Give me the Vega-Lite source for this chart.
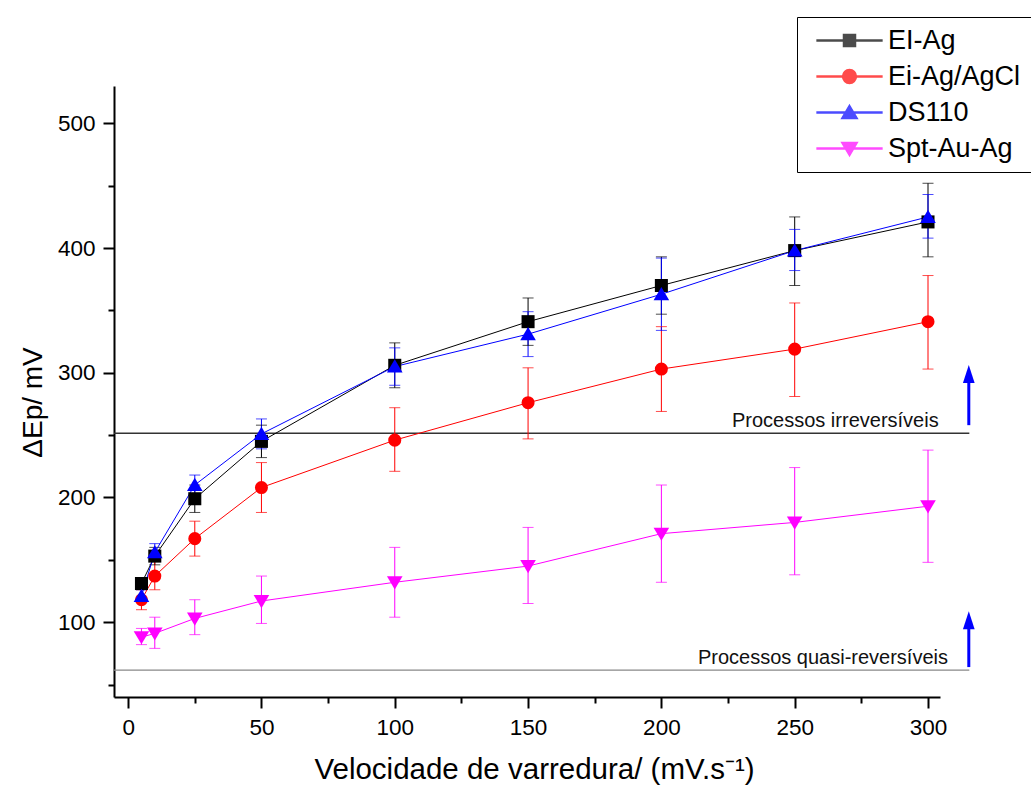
{
  "$schema": "https://vega.github.io/schema/vega-lite/v6.json",
  "width": 826,
  "height": 611,
  "autosize": {"type": "none"},
  "padding": {"left": 114, "top": 86, "right": 91, "bottom": 97},
  "background": "white",
  "config": {
    "font": "Liberation Sans",
    "view": {"stroke": null},
    "axis": {"grid": false, "domainColor": "#000", "domainWidth": 2, "tickColor": "#000", "tickWidth": 2, "labelColor": "#000", "titleColor": "#000", "labelFont": "Liberation Sans", "titleFont": "Liberation Sans", "titleFontWeight": "normal", "labelOverlap": false, "labelFlush": false}
  },
  "datasets": {
    "series": [
      {"s": "EI-Ag", "x": 5, "y": 131, "lo": 127, "hi": 135},
      {"s": "EI-Ag", "x": 10, "y": 153, "lo": 146, "hi": 160},
      {"s": "EI-Ag", "x": 25, "y": 199, "lo": 188, "hi": 210},
      {"s": "EI-Ag", "x": 50, "y": 245, "lo": 232, "hi": 258},
      {"s": "EI-Ag", "x": 100, "y": 306, "lo": 288, "hi": 324},
      {"s": "EI-Ag", "x": 150, "y": 341, "lo": 322, "hi": 360},
      {"s": "EI-Ag", "x": 200, "y": 370, "lo": 347, "hi": 393},
      {"s": "EI-Ag", "x": 250, "y": 398, "lo": 370, "hi": 425},
      {"s": "EI-Ag", "x": 300, "y": 421, "lo": 393, "hi": 452},
      {"s": "Ei-Ag/AgCl", "x": 5, "y": 118, "lo": 110, "hi": 126},
      {"s": "Ei-Ag/AgCl", "x": 10, "y": 137, "lo": 126, "hi": 149},
      {"s": "Ei-Ag/AgCl", "x": 25, "y": 167, "lo": 153, "hi": 181},
      {"s": "Ei-Ag/AgCl", "x": 50, "y": 208, "lo": 188, "hi": 228},
      {"s": "Ei-Ag/AgCl", "x": 100, "y": 246, "lo": 221, "hi": 272},
      {"s": "Ei-Ag/AgCl", "x": 150, "y": 276, "lo": 247, "hi": 304},
      {"s": "Ei-Ag/AgCl", "x": 200, "y": 303, "lo": 269, "hi": 337},
      {"s": "Ei-Ag/AgCl", "x": 250, "y": 319, "lo": 281, "hi": 356},
      {"s": "Ei-Ag/AgCl", "x": 300, "y": 341, "lo": 303, "hi": 378},
      {"s": "DS110", "x": 5, "y": 121, "lo": 116, "hi": 126},
      {"s": "DS110", "x": 10, "y": 156, "lo": 149, "hi": 163},
      {"s": "DS110", "x": 25, "y": 210, "lo": 202, "hi": 218},
      {"s": "DS110", "x": 50, "y": 251, "lo": 239, "hi": 263},
      {"s": "DS110", "x": 100, "y": 305, "lo": 290, "hi": 320},
      {"s": "DS110", "x": 150, "y": 331, "lo": 313, "hi": 349},
      {"s": "DS110", "x": 200, "y": 363, "lo": 334, "hi": 392},
      {"s": "DS110", "x": 250, "y": 398, "lo": 382, "hi": 415},
      {"s": "DS110", "x": 300, "y": 425, "lo": 408, "hi": 443},
      {"s": "Spt-Au-Ag", "x": 5, "y": 88, "lo": 82, "hi": 95},
      {"s": "Spt-Au-Ag", "x": 10, "y": 91, "lo": 79, "hi": 104},
      {"s": "Spt-Au-Ag", "x": 25, "y": 103, "lo": 90, "hi": 118},
      {"s": "Spt-Au-Ag", "x": 50, "y": 117, "lo": 99, "hi": 137},
      {"s": "Spt-Au-Ag", "x": 100, "y": 132, "lo": 104, "hi": 160},
      {"s": "Spt-Au-Ag", "x": 150, "y": 145, "lo": 115, "hi": 176},
      {"s": "Spt-Au-Ag", "x": 200, "y": 171, "lo": 132, "hi": 210},
      {"s": "Spt-Au-Ag", "x": 250, "y": 180, "lo": 138, "hi": 224},
      {"s": "Spt-Au-Ag", "x": 300, "y": 193, "lo": 148, "hi": 238}
    ],
    "limits": [
      {"k": "irr", "y": 251.5, "x1": -5.3, "x2": 315.5},
      {"k": "quasi", "y": 61.5, "x1": -5.3, "x2": 315.5}
    ],
    "labels": [
      {"k": "irr", "x": 304, "y": 256.3, "t": "Processos irreversíveis"},
      {"k": "quasi", "x": 307.5, "y": 66.3, "t": "Processos quasi-reversíveis"}
    ],
    "arrows": [
      {"x": 315.3, "y1": 258, "y2": 299},
      {"x": 315.3, "y1": 64, "y2": 101.5}
    ]
  },
  "layer": [
    {
      "data": {"name": "limits"},
      "transform": [{"filter": "datum.k === 'irr'"}],
      "mark": {"type": "rule", "color": "#333", "strokeWidth": 1.5},
      "encoding": {
        "y": {"field": "y", "type": "quantitative",
          "scale": {"domain": [40, 530], "nice": false, "zero": false},
          "axis": {
            "values": [50, 100, 150, 200, 250, 300, 350, 400, 450, 500],
            "tickSize": {"condition": {"test": "datum.value % 100 === 0", "value": 11}, "value": 6},
            "labelExpr": "datum.value % 100 === 0 ? datum.label : ''",
            "labelFontSize": 22.5, "labelPadding": 8,
            "title": "ΔEp/ mV", "titleFontSize": 28, "titlePadding": 10, "titleY": 316
          }
        },
        "x": {"field": "x1", "type": "quantitative",
          "scale": {"domain": [-5.3, 304.5], "nice": false, "zero": false},
          "axis": {
            "values": [0, 25, 50, 75, 100, 125, 150, 175, 200, 225, 250, 275, 300],
            "tickSize": {"condition": {"test": "datum.value % 50 === 0", "value": 11}, "value": 6},
            "labelExpr": "datum.value % 50 === 0 ? datum.label : ''",
            "labelFontSize": 22.5, "labelPadding": 8,
            "title": "Velocidade de varredura/ (mV.s⁻¹)", "titleFontSize": 29.5, "titlePadding": 17, "titleX": 420
          }
        },
        "x2": {"field": "x2"}
      }
    },
    {
      "data": {"name": "limits"},
      "transform": [{"filter": "datum.k === 'quasi'"}],
      "mark": {"type": "rule", "color": "#888", "strokeWidth": 1.3},
      "encoding": {
        "y": {"field": "y", "type": "quantitative"},
        "x": {"field": "x1", "type": "quantitative"},
        "x2": {"field": "x2"}
      }
    },
    {
      "data": {"name": "labels"},
      "mark": {"type": "text", "align": "right", "baseline": "alphabetic", "fontSize": 20, "color": "#111"},
      "encoding": {
        "x": {"field": "x", "type": "quantitative"},
        "y": {"field": "y", "type": "quantitative"},
        "text": {"field": "t"}
      }
    },
    {
      "data": {"name": "arrows"},
      "mark": {"type": "rule", "color": "#0000ff", "strokeWidth": 3},
      "encoding": {
        "x": {"field": "x", "type": "quantitative"},
        "y": {"field": "y1", "type": "quantitative"},
        "y2": {"field": "y2"}
      }
    },
    {
      "data": {"name": "arrows"},
      "mark": {"type": "point", "shape": "M0,-1L0.65,1L-0.65,1Z", "size": 324, "filled": true, "color": "#0000ff", "opacity": 1},
      "encoding": {
        "x": {"field": "x", "type": "quantitative"},
        "y": {"field": "y2", "type": "quantitative"}
      }
    },
    {
      "data": {"name": "series"},
      "mark": {"type": "rule", "strokeWidth": 1},
      "encoding": {
        "x": {"field": "x", "type": "quantitative"},
        "y": {"field": "lo", "type": "quantitative"},
        "y2": {"field": "hi"},
        "color": {"field": "s", "type": "nominal"}
      }
    },
    {
      "data": {"name": "series"},
      "mark": {"type": "tick", "orient": "horizontal", "size": 11, "thickness": 1},
      "encoding": {
        "x": {"field": "x", "type": "quantitative"},
        "y": {"field": "lo", "type": "quantitative"},
        "color": {"field": "s", "type": "nominal"}
      }
    },
    {
      "data": {"name": "series"},
      "mark": {"type": "tick", "orient": "horizontal", "size": 11, "thickness": 1},
      "encoding": {
        "x": {"field": "x", "type": "quantitative"},
        "y": {"field": "hi", "type": "quantitative"},
        "color": {"field": "s", "type": "nominal"}
      }
    },
    {
      "data": {"name": "series"},
      "mark": {"type": "line", "strokeWidth": 1},
      "encoding": {
        "x": {"field": "x", "type": "quantitative"},
        "y": {"field": "y", "type": "quantitative"},
        "color": {"field": "s", "type": "nominal"},
        "detail": {"field": "s"}
      }
    },
    {
      "data": {"name": "series"},
      "transform": [{"filter": "datum.s === 'EI-Ag'"}],
      "mark": {"type": "point", "filled": true, "opacity": 1, "size": 170, "shape": "square"},
      "encoding": {
        "x": {"field": "x", "type": "quantitative"},
        "y": {"field": "y", "type": "quantitative"},
        "color": {"field": "s", "type": "nominal"}
      }
    },
    {
      "data": {"name": "series"},
      "transform": [{"filter": "datum.s === 'Ei-Ag/AgCl'"}],
      "mark": {"type": "point", "filled": true, "opacity": 1, "size": 170, "shape": "circle"},
      "encoding": {
        "x": {"field": "x", "type": "quantitative"},
        "y": {"field": "y", "type": "quantitative"},
        "color": {"field": "s", "type": "nominal"}
      }
    },
    {
      "data": {"name": "series"},
      "transform": [{"filter": "datum.s === 'DS110'"}],
      "mark": {"type": "point", "filled": true, "opacity": 1, "size": 144, "shape": "M0,-1.2L1.3,1L-1.3,1Z"},
      "encoding": {
        "x": {"field": "x", "type": "quantitative"},
        "y": {"field": "y", "type": "quantitative"},
        "color": {"field": "s", "type": "nominal"}
      }
    },
    {
      "data": {"name": "series"},
      "transform": [{"filter": "datum.s === 'Spt-Au-Ag'"}],
      "mark": {"type": "point", "filled": true, "opacity": 1, "size": 144, "shape": "M0,1.2L1.3,-1L-1.3,-1Z"},
      "encoding": {
        "x": {"field": "x", "type": "quantitative"},
        "y": {"field": "y", "type": "quantitative"},
        "color": {"field": "s", "type": "nominal"}
      }
    },
    {
      "data": {"name": "series"},
      "transform": [{"filter": "false"}],
      "mark": {"type": "point", "filled": true, "opacity": 1, "size": 144},
      "encoding": {
        "x": {"field": "x", "type": "quantitative"},
        "y": {"field": "y", "type": "quantitative"},
        "color": {
          "field": "s", "type": "nominal",
          "scale": {"domain": ["EI-Ag", "Ei-Ag/AgCl", "DS110", "Spt-Au-Ag"], "range": ["#000000", "#ff0000", "#0000ff", "#ff00ff"]},
          "legend": {
            "orient": "none", "legendX": 683, "legendY": -69, "title": null,
            "labelFontSize": 27, "labelColor": "#000", "strokeColor": "#000",
            "padding": 10, "rowPadding": 8, "symbolOffset": 29, "labelOffset": 25, "symbolSize": 144,
            "symbolOpacity": 1, "fillColor": "white"
          }
        },
        "shape": {
          "field": "s", "type": "nominal",
          "scale": {"domain": ["EI-Ag", "Ei-Ag/AgCl", "DS110", "Spt-Au-Ag"], "range": ["M-5.4,-0.09H5.4V0.09H-5.4ZM-1,-1H1V1H-1Z", "M-5.4,-0.09H5.4V0.09H-5.4ZM-1.15,0A1.15,1.15,0,1,1,1.15,0A1.15,1.15,0,1,1,-1.15,0Z", "M-5.4,-0.09H5.4V0.09H-5.4ZM0,-1.2L1.3,1L-1.3,1Z", "M-5.4,-0.09H5.4V0.09H-5.4ZM0,1.2L-1.3,-1L1.3,-1Z"]}
        }
      }
    }
  ]
}
